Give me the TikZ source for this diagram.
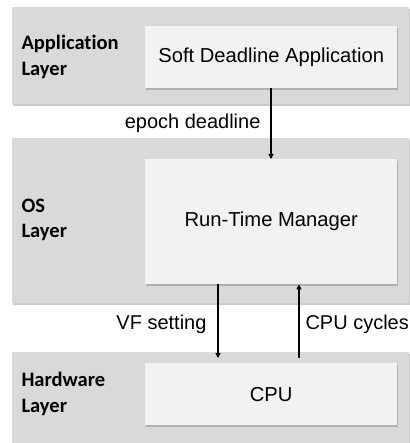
\documentclass[tikz,border=0pt]{standalone}
\usepackage{fontspec}
\setmainfont{Liberation Sans}
\newfontfamily\labelfont[Ligatures={NoCommon}]{Carlito}
\usetikzlibrary{shadows,arrows.meta}
\begin{document}
\begin{tikzpicture}[x=1pt,y=-1pt,
  band/.style={fill=bandgray, draw=none, drop shadow={shadow xshift=0.8pt, shadow yshift=-1.8pt, opacity=0.35, fill=black!60}},
  inner/.style={fill=boxgray, draw=none, drop shadow={shadow xshift=1pt, shadow yshift=-1.5pt, opacity=0.35, fill=black!60}},
  boxtext/.style={font=\fontsize{20.2}{24}\selectfont},
  lbl/.style={font=\labelfont\bfseries\fontsize{20.5}{25.5}\selectfont, align=left, anchor=west},
  conn/.style={line width=1.4pt, -{Triangle[length=5pt,width=5pt]}},
  edgetext/.style={font=\fontsize{20}{24}\selectfont}
]
\definecolor{bandgray}{HTML}{D9D9D9}
\definecolor{boxgray}{HTML}{F2F2F2}
\useasboundingbox (0,0) rectangle (409,443);
% bands
\path[band] (12,7) rectangle (409,104);
\path[band] (12,138) rectangle (409,303);
\path[band] (12,352) rectangle (409,443);
% inner boxes
\node[inner, boxtext, minimum width=252pt, minimum height=62pt, anchor=north west] (app) at (145,26) {Soft Deadline Application};
\node[inner, boxtext, minimum width=252pt, minimum height=125pt, anchor=north west] (rtm) at (145,159) {Run-Time Manager};
\node[inner, boxtext, minimum width=252pt, minimum height=62pt, anchor=north west] (cpu) at (145,363) {CPU};
% layer labels
\node[lbl] (l1) at (18,57) {Application\\Layer};
\node[lbl] (l2) at (18,220) {OS\\Layer};
\node[lbl] (l3) at (18,394) {Hardware\\Layer};
% connectors
\coordinate (vfend) at (218,358);
\coordinate (cycstart) at (299,358);
\draw[conn] (app.south -| 271,0) -- (rtm.north -| 271,0);
\draw[conn] (rtm.south -| vfend) -- (vfend);
\draw[conn] (cycstart) -- (rtm.south -| cycstart);
% connector labels
\node[edgetext, anchor=east] (t1) at (264,123) {epoch deadline};
\node[edgetext, anchor=east] (t2) at (210,324) {VF setting};
\node[edgetext, anchor=west] (t3) at (302,324) {CPU cycles};
\end{tikzpicture}
\end{document}
